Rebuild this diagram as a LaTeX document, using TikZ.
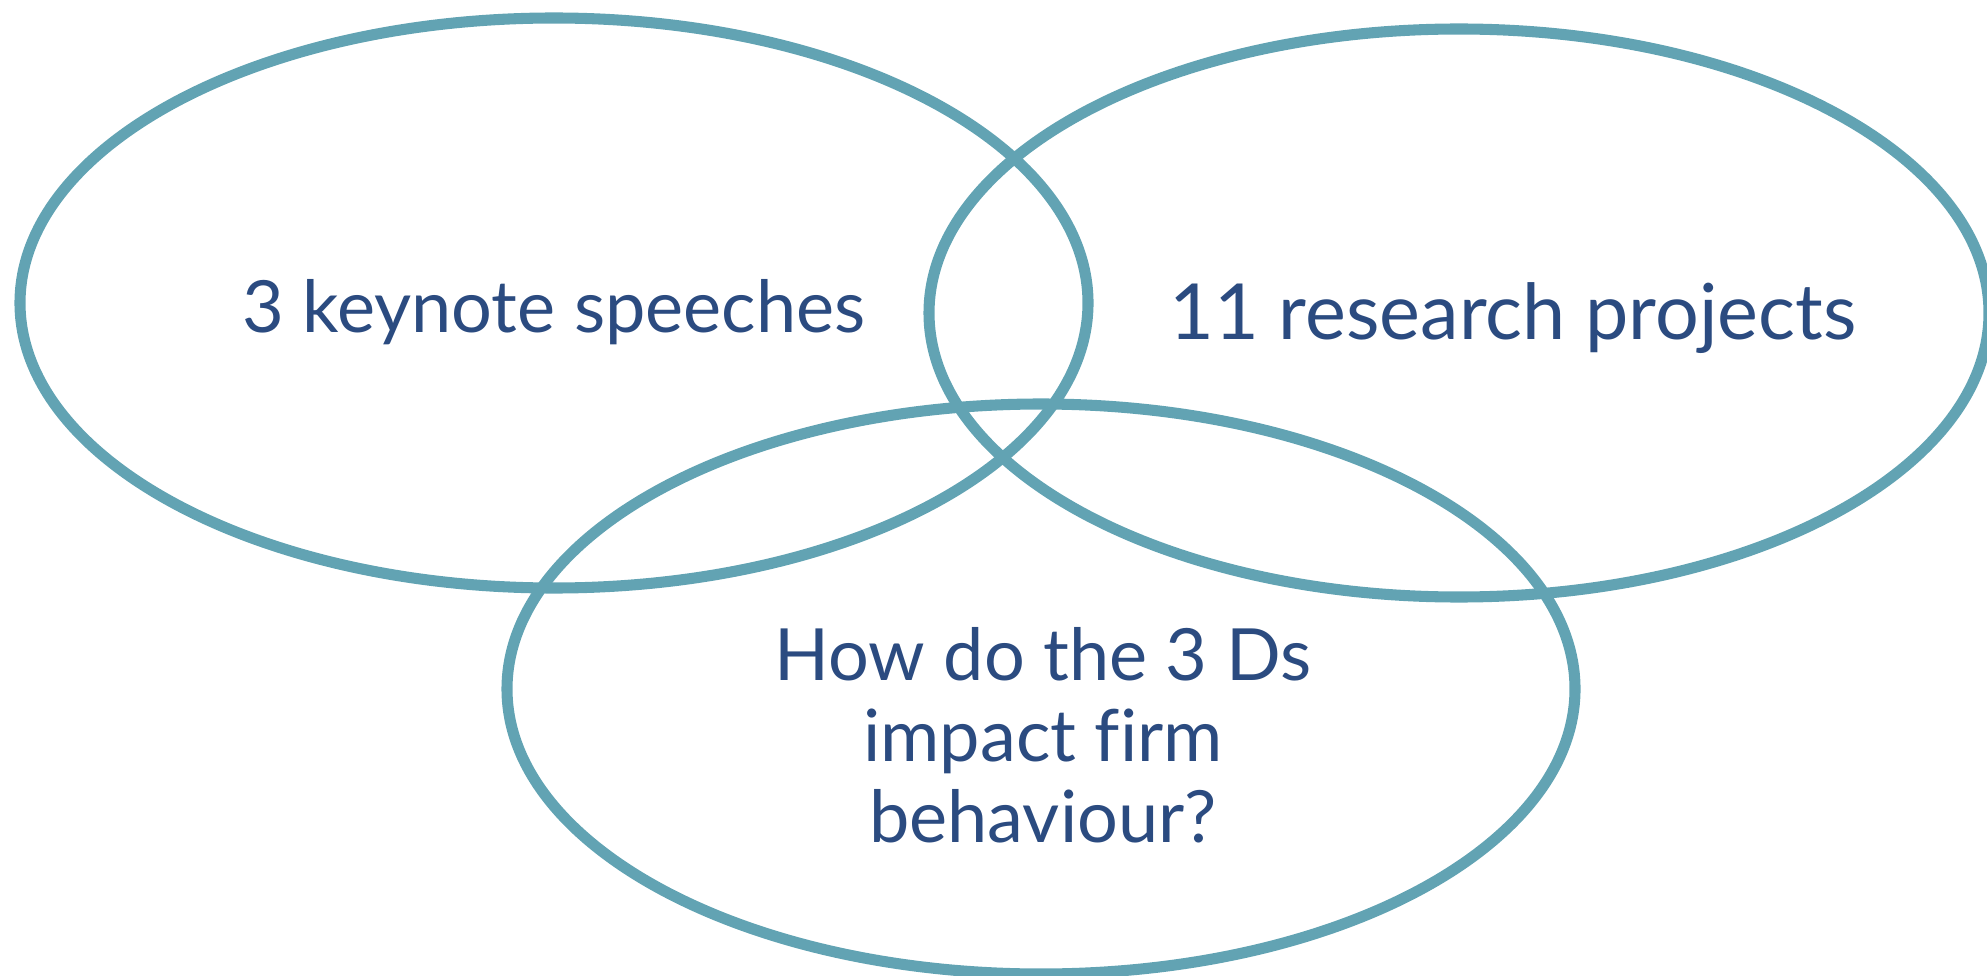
\documentclass[tikz,border=0pt]{standalone}
\usepackage{fontspec}
\setmainfont{Lato}[Ligatures=NoCommon]
\definecolor{ringteal}{RGB}{98,163,179}
\definecolor{labelblue}{RGB}{43,75,128}

\begin{document}
\begin{tikzpicture}[x=0.02cm,y=-0.02cm,line cap=round,line join=round]
  \tikzset{
    ring/.style={draw=ringteal,line width=6.3pt},
    setlabel/.style={text=labelblue,inner sep=0pt,font=\fontsize{41}{46}\selectfont}
  }
  \useasboundingbox (0,0) rectangle (1987,976);

  % the three sets
  \draw[ring] (554,303) ellipse [x radius=534,y radius=285];
  \draw[ring] (1459,313) ellipse [x radius=530,y radius=284];
  \draw[ring] (1041,689) ellipse [x radius=534,y radius=285];

  \node[setlabel,anchor=base] (speeches) at (554,333) {3 keynote speeches};
  \node[setlabel,anchor=base,font=\fontsize{44}{50}\selectfont] (projects) at (1513,339) {11 research projects};
  \node[setlabel,align=center] (question) at (1043,735) {How do the 3 Ds\\impact firm\\behaviour?};
\end{tikzpicture}
\end{document}
